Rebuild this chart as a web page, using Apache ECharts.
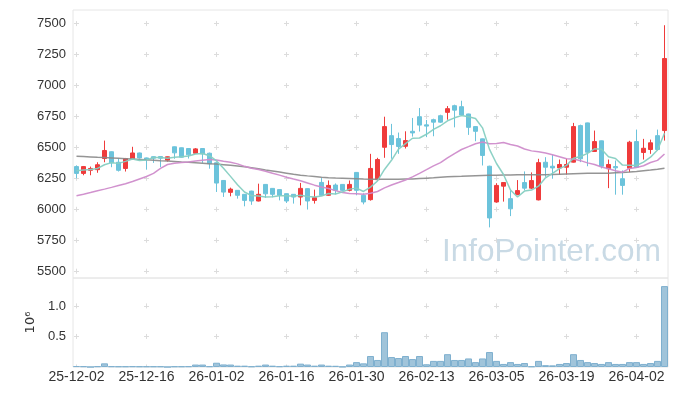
<!DOCTYPE html>
<html><head><meta charset="utf-8">
<script src="https://cdn.jsdelivr.net/npm/echarts@6/dist/echarts.min.js"></script>
<style>html,body{margin:0;padding:0;background:#fff}#c{width:677px;height:396px}</style>
</head><body><div id="c"></div>
<script>
const dates = ["25-12-02","25-12-03","25-12-04","25-12-05","25-12-08","25-12-09","25-12-10","25-12-11","25-12-12","25-12-15",
"25-12-16","25-12-17","25-12-18","25-12-19","25-12-22","25-12-23","25-12-24","25-12-26","25-12-29","25-12-30",
"26-01-02","26-01-05","26-01-06","26-01-07","26-01-08","26-01-09","26-01-12","26-01-13","26-01-14","26-01-15",
"26-01-16","26-01-19","26-01-20","26-01-21","26-01-22","26-01-23","26-01-26","26-01-27","26-01-28","26-01-29",
"26-01-30","26-02-02","26-02-03","26-02-04","26-02-05","26-02-06","26-02-09","26-02-10","26-02-11","26-02-12",
"26-02-13","26-02-19","26-02-20","26-02-23","26-02-24","26-02-25","26-02-26","26-02-27","26-03-03","26-03-04",
"26-03-05","26-03-06","26-03-09","26-03-10","26-03-11","26-03-12","26-03-13","26-03-16","26-03-17","26-03-18",
"26-03-19","26-03-20","26-03-23","26-03-24","26-03-25","26-03-26","26-03-27","26-03-30","26-03-31","26-04-01",
"26-04-02","26-04-03","26-04-06","26-04-07","26-04-08"];
const opens = [6345,6290,6315,6320,6410,6465,6380,6330,6410,6455,
6415,6425,6426,6397,6505,6497,6491,6453,6491,6453,
6376,6233,6137,6153,6121,6147,6067,6201,6169,6159,
6126,6121,6099,6167,6072,6217,6113,6196,6201,6153,
6298,6113,6078,6239,6501,6595,6571,6509,6630,6748,
6682,6724,6756,6783,6837,6829,6770,6668,6569,6348,
6059,6187,6086,6119,6216,6171,6076,6380,6348,6334,
6340,6381,6676,6698,6467,6553,6328,6345,6247,6332,
6547,6459,6483,6595,6636];
const closes = [6290,6345,6330,6360,6475,6375,6315,6410,6455,6415,
6400,6413,6413,6424,6456,6421,6440,6488,6448,6368,
6212,6139,6163,6113,6072,6067,6121,6125,6121,6113,
6067,6099,6169,6067,6094,6113,6193,6153,6153,6201,
6153,6059,6330,6402,6668,6523,6507,6555,6617,6680,
6672,6704,6704,6813,6801,6762,6662,6630,6435,5930,
6193,6216,6004,6151,6171,6232,6377,6340,6334,6362,
6362,6668,6408,6461,6547,6348,6362,6335,6193,6542,
6340,6493,6537,6483,7218];
const lows = [6250,6275,6275,6295,6380,6340,6305,6305,6400,6410,
6320,6375,6340,6385,6408,6418,6410,6450,6375,6328,
6140,6100,6105,6086,6024,6036,6064,6093,6097,6072,
6051,6046,6032,5998,6046,6110,6108,6121,6145,6145,
6113,6040,6070,6232,6416,6408,6448,6491,6587,6628,
6583,6590,6698,6724,6662,6754,6601,6550,6354,5854,
6053,6062,5945,6113,6153,6163,6072,6262,6247,6280,
6280,6378,6381,6348,6464,6330,6171,6118,6118,6300,
6336,6402,6448,6475,6555];
const highs = [6355,6350,6345,6380,6555,6468,6410,6415,6505,6458,
6418,6427,6428,6426,6507,6499,6493,6495,6493,6458,
6378,6235,6175,6155,6123,6150,6207,6203,6171,6161,
6128,6123,6213,6169,6159,6252,6233,6209,6203,6233,
6300,6129,6448,6416,6748,6690,6620,6630,6738,6818,
6722,6732,6764,6834,6845,6877,6772,6670,6571,6352,
6211,6218,6153,6236,6306,6298,6408,6421,6439,6402,
6408,6698,6684,6700,6636,6555,6402,6394,6314,6553,
6644,6569,6563,6644,7487];
const ma5 = [6312,6318,6322,6330,6360,6377,6371,6387,6406,6394,
6399,6419,6419,6413,6421,6425,6431,6446,6451,6433,
6391,6331,6266,6199,6140,6111,6107,6100,6101,6109,
6109,6105,6114,6103,6099,6108,6127,6124,6141,6163,
6171,6144,6179,6229,6322,6396,6486,6531,6574,6576,
6606,6646,6675,6715,6739,6757,6748,6734,6658,6484,
6370,6281,6156,6099,6147,6155,6187,6254,6291,6329,
6355,6413,6427,6452,6489,6486,6425,6411,6357,6356,
6354,6381,6421,6479,6614];
const ma20 = [6110,6122,6135,6150,6163,6177,6192,6207,6225,6245,
6265,6290,6330,6362,6372,6378,6382,6390,6397,6402,
6398,6388,6380,6367,6347,6332,6322,6308,6291,6276,
6259,6244,6231,6213,6195,6180,6168,6151,6136,6128,
6125,6121,6129,6144,6173,6196,6216,6237,6262,6290,
6320,6351,6377,6415,6450,6483,6506,6530,6544,6530,
6532,6540,6524,6511,6487,6472,6465,6455,6441,6425,
6409,6407,6393,6375,6362,6342,6327,6312,6300,6330,
6338,6352,6378,6395,6447];
const ma60 = [6429,6426,6423,6420,6418,6415,6412,6409,6406,6403,
6400,6397,6393,6390,6387,6383,6380,6376,6372,6368,
6365,6360,6355,6350,6343,6335,6327,6318,6310,6301,
6292,6283,6276,6270,6265,6259,6255,6252,6250,6248,
6246,6244,6243,6243,6243,6243,6243,6244,6245,6248,
6251,6254,6258,6262,6264,6266,6269,6272,6274,6275,
6276,6277,6278,6279,6280,6280,6280,6280,6282,6284,
6286,6288,6290,6291,6291,6292,6292,6295,6298,6301,
6305,6311,6317,6324,6332];
const volumes = [15000,12000,0,12000,60000,12000,10000,10000,12000,10000,
10000,10000,10000,0,10000,10000,12000,40000,40000,12000,
70000,42000,40000,22000,22000,10000,22000,40000,22000,12000,
22000,22000,55000,40000,22000,40000,22000,20000,5000,40000,
80000,60000,180000,115000,570000,163000,147000,180000,130000,180000,
45000,100000,100000,210000,115000,115000,140000,80000,140000,245000,
100000,50000,80000,50000,65000,10000,100000,30000,27000,50000,
65000,210000,115000,80000,65000,50000,80000,50000,50000,80000,
80000,50000,65000,100000,1325000];
const priceTicks = [5500,5750,6000,6250,6500,6750,7000,7250,7500];
const volumeTicks = [500000,1000000];
const volumeUnitLabel = '10⁶';
const watermark = 'InfoPointer.com';

const FONT = 'Liberation Sans';
const candleData = dates.map((d, i) => [opens[i], closes[i], lows[i], highs[i]]);
const chart = echarts.init(document.getElementById('c'), null, {renderer: 'canvas'});
const gridLine = '#dcdcdc';
chart.setOption({
  animation: false,
  backgroundColor: '#fff',
  grid: [
    {left: 73, right: 9, top: 10, height: 268, show: true, borderColor: '#e6e6e6', borderWidth: 1},
    {left: 73, right: 9, top: 278, height: 89, show: true, borderColor: '#e6e6e6', borderWidth: 1}
  ],
  xAxis: [
    {type: 'category', gridIndex: 0, data: dates, boundaryGap: true,
     axisLine: {show: false}, axisTick: {show: false}, axisLabel: {show: false},
     splitLine: {show: true, interval: 9, alignWithLabel: true,
       lineStyle: {color: gridLine, width: 1, type: [5, 25.95], dashOffset: 19.85}}},
    {type: 'category', gridIndex: 1, data: dates, boundaryGap: true,
     axisLine: {show: false}, axisTick: {show: false},
     axisLabel: {interval: 9, color: '#333', fontSize: 14, fontFamily: FONT, margin: 3},
     splitLine: {show: true, interval: 9, alignWithLabel: true,
       lineStyle: {color: gridLine, width: 1, type: [5, 25.53], dashOffset: 5.13}}}
  ],
  yAxis: [
    {type: 'value', gridIndex: 0, min: 5445, max: 7610, scale: true,
     axisLine: {show: false}, axisTick: {show: false, customValues: priceTicks},
     axisLabel: {customValues: priceTicks, color: '#333', fontSize: 13, fontFamily: FONT, margin: 7,
       formatter: v => String(v)},
     splitLine: {show: true, lineStyle: {color: gridLine, width: 1, type: [5, 65], dashOffset: 69}}},
    {type: 'value', gridIndex: 1, min: 0, max: 1457500,
     name: volumeUnitLabel, nameLocation: 'middle', nameRotate: 90, nameGap: 36,
     nameTextStyle: {color: '#333', fontSize: 13, fontFamily: 'DejaVu Sans'},
     axisLine: {show: false}, axisTick: {show: false, customValues: volumeTicks},
     axisLabel: {customValues: volumeTicks, color: '#333', fontSize: 13, fontFamily: FONT, margin: 7,
       formatter: v => (v / 1e6).toFixed(1)},
     splitLine: {show: true, lineStyle: {color: gridLine, width: 1, type: [5, 65], dashOffset: 69}}}
  ],
  graphic: [{type: 'text', left: 442, top: 236, z: 1, silent: true,
    style: {text: watermark, fill: '#c9dae5', font: '31.5px "Liberation Sans"'}}],
  series: [
    {type: 'candlestick', xAxisIndex: 0, yAxisIndex: 0, data: candleData, barWidth: 5,
     itemStyle: {color: '#ef3b3b', color0: '#6cc3db', borderColor: '#ef3b3b', borderColor0: '#6cc3db', borderWidth: 1}},
    {type: 'line', xAxisIndex: 0, yAxisIndex: 0, data: ma60, symbol: 'none', silent: true,
     lineStyle: {color: '#8a8a8a', width: 1.5, opacity: 0.9}},
    {type: 'line', xAxisIndex: 0, yAxisIndex: 0, data: ma20, symbol: 'none', silent: true,
     lineStyle: {color: '#cf8ccb', width: 1.5, opacity: 0.95}},
    {type: 'line', xAxisIndex: 0, yAxisIndex: 0, data: ma5, symbol: 'none', silent: true,
     lineStyle: {color: '#86cfc2', width: 1.5, opacity: 0.95}},
    {type: 'bar', xAxisIndex: 1, yAxisIndex: 1, data: volumes, barCategoryGap: '0%',
     itemStyle: {color: '#a0c4da', borderColor: '#7fb0cf', borderWidth: 1}}
  ]
});
</script></body></html>
